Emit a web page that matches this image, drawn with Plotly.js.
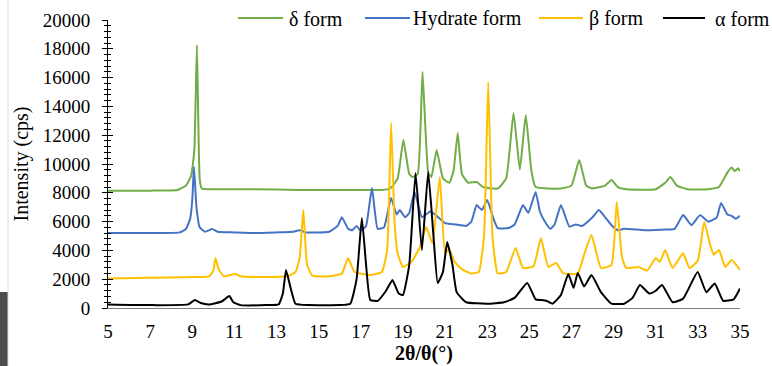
<!DOCTYPE html>
<html>
<head>
<meta charset="utf-8">
<script src="https://cdn.plot.ly/plotly-3.0.1.min.js"></script>
<style>html,body{margin:0;padding:0;background:#fff;}#chart{width:772px;height:366px;}</style>
</head>
<body>
<div id="chart"></div>
<script>
// ---- data ----
const seriesNames = ["δ form", "Hydrate form", "β form", "α form"];

const deltaX = [5, 7, 8.3, 8.7, 8.95, 9.1, 9.22, 9.35, 9.45, 10, 12, 14, 16, 18, 18.4, 18.75, 19.02, 19.3, 19.45, 19.7, 19.93, 20.2, 20.35, 20.6, 20.9, 21.2, 21.4, 21.6, 21.8, 22.1, 22.5, 22.8, 23.5, 23.9, 24.25, 24.55, 24.83, 25.1, 25.3, 26.5, 27.0, 27.37, 27.7, 28.0, 28.6, 28.9, 29.2, 29.6, 31.0, 31.45, 31.7, 32.0, 32.5, 33.5, 34.0, 34.4, 34.6, 34.75, 34.9, 35];
const deltaY = [8150, 8150, 8200, 8500, 9200, 11000, 18260, 9000, 8300, 8250, 8250, 8200, 8200, 8200, 8300, 9000, 11670, 9300, 9100, 9300, 16390, 9400, 9100, 10970, 9000, 8700, 9500, 12150, 9300, 8700, 8750, 8400, 8300, 9000, 13540, 9600, 13400, 9500, 8400, 8300, 8500, 10280, 8500, 8300, 8500, 8890, 8400, 8250, 8250, 8700, 9100, 8500, 8250, 8250, 8400, 9400, 9750, 9500, 9700, 9500];

const hydrateX = [5, 7, 8.4, 8.7, 8.9, 9.0, 9.08, 9.2, 9.35, 9.6, 9.95, 10.2, 11, 12, 13, 13.8, 14.1, 14.4, 15.5, 15.9, 16.1, 16.4, 16.6, 16.8, 17.0, 17.25, 17.53, 17.8, 18.1, 18.44, 18.7, 18.85, 19.1, 19.3, 19.55, 19.9, 20.1, 20.3, 20.6, 21.0, 21.5, 22.0, 22.25, 22.5, 22.75, 23.0, 23.3, 23.5, 24.0, 24.3, 24.7, 24.95, 25.3, 25.5, 25.7, 26.0, 26.2, 26.5, 26.9, 27.2, 27.5, 28.0, 28.3, 28.6, 28.9, 29.2, 29.5, 30.5, 31.5, 31.9, 32.3, 32.7, 33.1, 33.5, 33.9, 34.1, 34.4, 34.6, 34.8, 35];
const hydrateY = [5200, 5200, 5250, 5500, 6200, 7500, 9790, 7000, 5600, 5300, 5480, 5300, 5250, 5200, 5250, 5300, 5400, 5250, 5300, 5700, 6300, 5500, 5400, 5700, 5350, 5700, 8330, 5500, 5600, 7640, 6500, 6800, 6300, 6600, 8050, 6300, 6500, 6700, 6400, 5900, 5800, 5700, 6000, 7150, 6800, 7500, 6200, 5550, 5550, 5800, 7150, 6600, 8050, 6700, 6100, 5500, 5800, 7150, 5650, 5800, 5700, 6300, 6800, 6300, 5750, 5400, 5500, 5400, 5450, 5500, 6450, 5750, 6450, 6000, 6300, 7300, 6500, 6400, 6200, 6400];

const betaX = [5, 7, 9, 9.8, 10.0, 10.1, 10.25, 10.5, 11.05, 11.3, 12, 13.5, 13.9, 14.1, 14.27, 14.45, 14.7, 15.5, 16.1, 16.4, 16.7, 17.5, 18.0, 18.25, 18.44, 18.6, 18.75, 19.0, 19.4, 19.8, 20.1, 20.4, 20.75, 21.0, 21.2, 21.45, 21.8, 22.2, 22.6, 22.85, 23.05, 23.25, 23.5, 23.9, 24.35, 24.7, 25.2, 25.55, 25.9, 26.27, 26.6, 27.3, 27.6, 27.95, 28.4, 28.9, 29.15, 29.4, 29.6, 30.2, 30.6, 31.0, 31.2, 31.45, 31.8, 32.3, 32.6, 33.0, 33.3, 33.6, 33.75, 34.0, 34.3, 34.6, 35];
const betaY = [2050, 2100, 2150, 2200, 2600, 3470, 2700, 2200, 2360, 2200, 2150, 2200, 2500, 3500, 6800, 3000, 2250, 2200, 2400, 3470, 2500, 2300, 2500, 4000, 12850, 6000, 3800, 2850, 3200, 4200, 5630, 4500, 9100, 3800, 4100, 3200, 2700, 2400, 2500, 5000, 15700, 5000, 2400, 2500, 4170, 2780, 2900, 4860, 2850, 3120, 2430, 2400, 3700, 5070, 2780, 3000, 7360, 3500, 2780, 2850, 2600, 3470, 3200, 4030, 2780, 3800, 2780, 3300, 5970, 4300, 3700, 4030, 2850, 3330, 2640];

const alphaX = [5, 7, 8.8, 9.13, 9.4, 9.8, 10.4, 10.76, 10.95, 11.3, 12.5, 13.1, 13.3, 13.45, 13.65, 13.9, 14.5, 16.0, 16.5, 16.8, 17.05, 17.25, 17.45, 17.8, 18.2, 18.5, 18.8, 19.0, 19.3, 19.6, 19.9, 20.2, 20.45, 20.65, 20.9, 21.1, 21.35, 21.55, 22.0, 23.0, 23.8, 24.3, 24.9, 25.3, 25.6, 25.8, 26.1, 26.5, 26.85, 27.1, 27.3, 27.6, 27.95, 28.4, 28.9, 29.5, 29.9, 30.25, 30.7, 31.0, 31.3, 31.8, 32.3, 32.99, 33.4, 33.8, 34.2, 34.7, 35];
const alphaY = [250, 200, 250, 550, 350, 250, 450, 830, 400, 200, 200, 250, 1000, 2640, 1500, 300, 200, 200, 300, 2000, 6250, 3000, 550, 500, 1200, 1940, 1000, 900, 3000, 9370, 4030, 9440, 5000, 1740, 2500, 4580, 3000, 1100, 400, 300, 400, 700, 1740, 600, 550, 500, 300, 900, 2360, 1400, 2430, 1500, 2290, 1100, 300, 300, 700, 1600, 1000, 1200, 1600, 400, 650, 2500, 1100, 1700, 500, 600, 1350];

const xTickVals = [5, 7, 9, 11, 13, 15, 17, 19, 21, 23, 25, 27, 29, 31, 33, 35];
const yTickVals = [0, 2000, 4000, 6000, 8000, 10000, 12000, 14000, 16000, 18000, 20000];

// ---- styles ----
const colors = ["#70AD47", "#4472C4", "#FFC000", "#000000"];
const serif = "Liberation Serif, Times New Roman, serif";
const W = 772, H = 366, ML = 108, MR = 32, MT = 20, MB = 58;
const PW = W - ML - MR, PH = H - MT - MB;
const px = v => (v - ML) / PW;          // page pixel -> paper x
const py = v => (H - MB - v) / PH;      // page pixel -> paper y

const xs = [deltaX, hydrateX, betaX, alphaX];
const ys = [deltaY, hydrateY, betaY, alphaY];
const traces = seriesNames.map((n, i) => ({
  type: "scatter", mode: "lines", name: n, x: xs[i], y: ys[i],
  line: {color: colors[i], width: 2, shape: "spline", smoothing: 0.4}, hoverinfo: "skip"
}));
// empty helper trace so the overlay axis (inside half of the crossing ticks) is drawn
traces.push({type: "scatter", mode: "lines", x: [], y: [], yaxis: "y2", showlegend: false, hoverinfo: "skip"});

// legend drawn by hand to match the reference spacing: [line start, line end, text start] in page pixels
const legendPos = [[238, 283, 288], [365, 410, 412], [539, 583, 588], [663, 705, 714]];
const legendY = 18;
const shapes = [
  {type: "rect", xref: "paper", yref: "paper", x0: px(0), x1: px(8), y0: py(366), y1: py(292),
   fillcolor: "#4d4d4d", line: {width: 0}, layer: "above"},
  {type: "line", xref: "paper", yref: "paper", x0: px(8), x1: px(8), y0: py(366), y1: py(0),
   line: {color: "#dddddd", width: 1}, layer: "above"}
];
const annotations = [];
seriesNames.forEach((n, i) => {
  const p = legendPos[i];
  shapes.push({type: "line", xref: "paper", yref: "paper", x0: px(p[0]), x1: px(p[1]),
               y0: py(legendY), y1: py(legendY), line: {color: colors[i], width: 2}});
  annotations.push({xref: "paper", yref: "paper", x: px(p[2]), y: py(legendY + 1), xanchor: "left", yanchor: "middle",
                    text: n, showarrow: false, borderpad: 0, font: {family: serif, size: 20, color: "#000"}});
});

const layout = {
  width: W, height: H,
  margin: {l: ML, r: MR, t: MT, b: MB, autoexpand: false},
  paper_bgcolor: "#ffffff", plot_bgcolor: "#ffffff",
  font: {family: serif, size: 19, color: "#000"},
  showlegend: false,
  xaxis: {
    range: [5, 35], tickmode: "array", tickvals: xTickVals, ticktext: xTickVals.map(String),
    showgrid: false, zeroline: false, showline: true, linecolor: "#7f7f7f", linewidth: 1,
    ticks: "outside", ticklen: 6, tickcolor: "rgba(0,0,0,0)",
    tickfont: {family: serif, size: 19, color: "#000"},
    title: {text: "<b>2θ/θ(°)</b>", font: {family: serif, size: 20, color: "#000"}, standoff: 4}
  },
  yaxis: {
    range: [0, 20000], tickmode: "array", tickvals: yTickVals, ticktext: yTickVals.map(String),
    showgrid: false, zeroline: false, showline: true, linecolor: "#000", linewidth: 1,
    ticks: "outside", ticklen: 5, tickcolor: "#000", tickwidth: 1,
    minor: {dtick: 400, ticks: "outside", ticklen: 3, tickcolor: "#000", showgrid: false},
    ticklabelstandoff: 8,
    tickfont: {family: serif, size: 19, color: "#000"},
    title: {text: "Intensity (cps)", font: {family: serif, size: 20, color: "#000"}, standoff: 8}
  },
  yaxis2: {
    overlaying: "y", side: "left", range: [0, 20000], tickmode: "array", tickvals: yTickVals,
    showticklabels: false, showgrid: false, zeroline: false, showline: false,
    ticks: "inside", ticklen: 5, tickcolor: "#000", tickwidth: 1,
    minor: {dtick: 400, ticks: "inside", ticklen: 3, tickcolor: "#000", showgrid: false}
  },
  shapes: shapes,
  annotations: annotations
};

Plotly.newPlot("chart", traces, layout, {displayModeBar: false, staticPlot: true});
</script>
</body>
</html>
